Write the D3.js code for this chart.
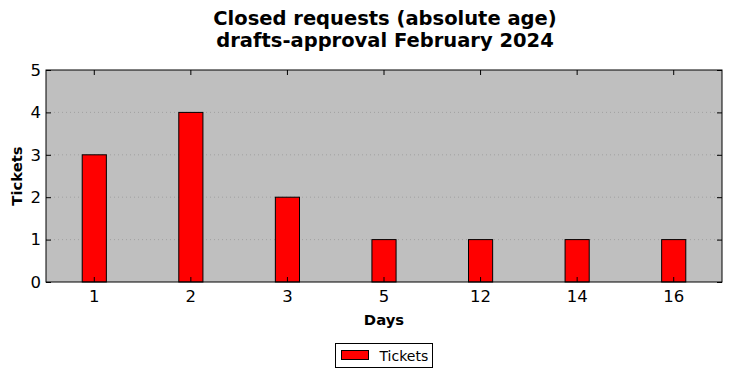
<!DOCTYPE html>
<html>
<head>
<meta charset="utf-8">
<script src="https://cdn.jsdelivr.net/npm/d3@7"></script>
<style>
  body { margin: 0; background: #fff; }
  text { font-family: "DejaVu Sans", sans-serif; }
</style>
</head>
<body>
<div id="viz"></div>
<script>
const titleLines = ["Closed requests (absolute age)", "drafts-approval February 2024"];
const days = ["1", "2", "3", "5", "12", "14", "16"];
const tickets = [3, 4, 2, 1, 1, 1, 1];
const yTicks = [0, 1, 2, 3, 4, 5];

const W = 732, H = 378;
const M = { left: 46, right: 10, top: 70, bottom: 96 };
const innerW = W - M.left - M.right;
const innerH = H - M.top - M.bottom;

const svg = d3.select("#viz").append("svg")
  .attr("width", W).attr("height", H);

svg.selectAll("text.title")
  .data(titleLines)
  .join("text")
  .attr("class", "title")
  .attr("x", 385).attr("y", (d, i) => 25 + i * 22)
  .attr("text-anchor", "middle")
  .attr("font-size", 19.5).attr("font-weight", "bold")
  .text(d => d);

const x = d3.scaleBand().domain(days).range([0, innerW]).padding(0);
const y = d3.scaleLinear().domain([0, 5]).range([innerH, 0]);

const g = svg.append("g").attr("transform", `translate(${M.left},${M.top})`);

g.append("rect").attr("width", innerW).attr("height", innerH).attr("fill", "#bfbfbf");

// dotted grid
g.selectAll("line.grid")
  .data(yTicks.filter(t => t > 0 && t < 5))
  .join("line")
  .attr("x1", 0).attr("x2", innerW)
  .attr("y1", d => y(d)).attr("y2", d => y(d))
  .attr("stroke", "#999").attr("stroke-width", 0.8)
  .attr("stroke-dasharray", "1,3");

// bars
const barW = x.bandwidth() * 0.25;
g.selectAll("rect.bar")
  .data(days)
  .join("rect")
  .attr("class", "bar")
  .attr("x", d => x(d) + x.bandwidth() / 2 - barW / 2)
  .attr("y", (d, i) => y(tickets[i]))
  .attr("width", barW)
  .attr("height", (d, i) => innerH - y(tickets[i]))
  .attr("fill", "#ff0000").attr("stroke", "#000").attr("stroke-width", 1);

// axes with inward ticks
const styleAxis = sel => {
  sel.select(".domain").remove();
  sel.selectAll("text").attr("font-family", "DejaVu Sans, sans-serif").attr("fill", "#000");
  sel.selectAll("line").attr("stroke", "#000");
};

g.append("g")
  .attr("transform", `translate(0,${innerH})`)
  .call(d3.axisBottom(x).tickSizeInner(-5).tickSizeOuter(0).tickPadding(8))
  .call(styleAxis)
  .selectAll("text").attr("font-size", 16.5);

g.append("g")
  .call(d3.axisTop(x).tickSizeInner(-5).tickSizeOuter(0).tickFormat(""))
  .call(styleAxis);

g.append("g")
  .call(d3.axisLeft(y).tickValues(yTicks).tickFormat(d3.format("d")).tickSizeInner(-5).tickSizeOuter(0).tickPadding(5))
  .call(styleAxis)
  .selectAll("text").attr("font-size", 16.5);

g.append("g")
  .attr("transform", `translate(${innerW},0)`)
  .call(d3.axisRight(y).tickValues(yTicks).tickFormat("").tickSizeInner(-5).tickSizeOuter(0))
  .call(styleAxis);

g.append("rect").attr("width", innerW).attr("height", innerH)
  .attr("fill", "none").attr("stroke", "#000").attr("stroke-width", 1);

// axis labels
svg.append("text")
  .attr("x", M.left + innerW / 2).attr("y", 325)
  .attr("text-anchor", "middle")
  .attr("font-size", 14.8).attr("font-weight", "bold")
  .text("Days");

svg.append("text")
  .attr("transform", `translate(22,${M.top + innerH / 2}) rotate(-90)`)
  .attr("text-anchor", "middle")
  .attr("font-size", 14.8).attr("font-weight", "bold")
  .text("Tickets");

// legend
const leg = svg.append("g").attr("transform", "translate(335.5,343.5)");
leg.append("rect").attr("width", 97).attr("height", 24)
  .attr("fill", "#fff").attr("stroke", "#000");
leg.append("rect").attr("x", 6).attr("y", 7).attr("width", 27).attr("height", 9)
  .attr("fill", "#ff0000").attr("stroke", "#000");
leg.append("text").attr("x", 44).attr("y", 17)
  .attr("font-size", 14).text("Tickets");
</script>
</body>
</html>
